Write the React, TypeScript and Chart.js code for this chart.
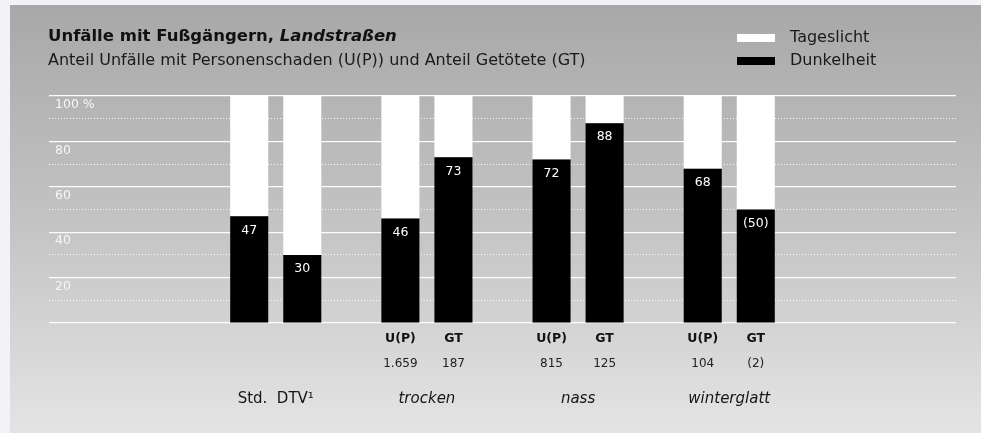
import React, { useEffect, useRef } from 'react';
import { Chart, registerables } from 'chart.js';

Chart.register(...registerables);

// ---- data ----
const categories = ['', 'Std.  DTV\u00B9', 'trocken', 'nass', 'winterglatt', ''];
const dunkelUP = [null, 47, 46, 72, 68, null];
const tagUP = [null, 53, 54, 28, 32, null];
const dunkelGT = [null, 30, 73, 88, 50, null];
const tagGT = [null, 70, 27, 12, 50, null];
const countsUP = [null, null, '1.659', '815', '104', null];
const countsGT = [null, null, '187', '125', '(2)', null];
const subLabelUP = 'U(P)';
const subLabelGT = 'GT';
const yTicks = [0, 20, 40, 60, 80, 100];

const titleMain = 'Unfälle mit Fußgängern, ';
const titleItalic = 'Landstraßen';
const subtitle = 'Anteil Unfälle mit Personenschaden (U(P)) und Anteil Getötete (GT)';
const legendItems = [
  { text: 'Tageslicht', color: '#ffffff' },
  { text: 'Dunkelheit', color: '#000000' },
];

const FAMILY = "'DejaVu Sans', sans-serif";

const headerPlugin = {
  id: 'header',
  afterDraw(chart: any) {
    const ctx = chart.ctx;
    ctx.save();
    ctx.textBaseline = 'alphabetic';
    ctx.textAlign = 'left';
    ctx.fillStyle = '#111';
    ctx.font = `bold 16.5px ${FAMILY}`;
    ctx.fillText(titleMain, 48, 41);
    const w = ctx.measureText(titleMain).width;
    ctx.font = `italic bold 16.5px ${FAMILY}`;
    ctx.fillText(titleItalic, 48 + w, 41);
    ctx.font = `16px ${FAMILY}`;
    ctx.fillStyle = '#1a1a1a';
    ctx.fillText(subtitle, 48, 65);
    legendItems.forEach((it, i) => {
      const y = 34 + i * 23;
      ctx.fillStyle = it.color;
      ctx.fillRect(737, y, 38, 8);
      ctx.fillStyle = '#1a1a1a';
      ctx.font = `16px ${FAMILY}`;
      ctx.fillText(it.text, 790, y + 8);
    });
    ctx.restore();
  },
};

const annotPlugin = {
  id: 'annot',
  afterDatasetsDraw(chart: any) {
    const ctx = chart.ctx;
    const bottom = chart.chartArea.bottom;
    const pairs = [
      { meta: chart.getDatasetMeta(0), values: dunkelUP, counts: countsUP, sub: subLabelUP },
      { meta: chart.getDatasetMeta(2), values: dunkelGT, counts: countsGT, sub: subLabelGT },
    ];
    ctx.save();
    ctx.textAlign = 'center';
    ctx.textBaseline = 'middle';
    pairs.forEach((p) => {
      p.values.forEach((v, i) => {
        if (v == null) return;
        const bar = p.meta.data[i];
        const c = p.counts[i];
        const uncertain = typeof c === 'string' && c.startsWith('(');
        ctx.fillStyle = '#ffffff';
        ctx.font = `12.5px ${FAMILY}`;
        ctx.fillText(uncertain ? `(${v})` : String(v), bar.x, bar.y + 14);
        if (c != null) {
          ctx.fillStyle = '#111';
          ctx.font = `bold 12.5px ${FAMILY}`;
          ctx.fillText(p.sub, bar.x, bottom + 16);
          ctx.font = `12px ${FAMILY}`;
          ctx.fillStyle = '#222';
          ctx.fillText(c, bar.x, bottom + 41);
        }
      });
    });
    ctx.restore();
  },
};

export default function App() {
  const ref = useRef<HTMLCanvasElement | null>(null);

  useEffect(() => {
    document.body.style.margin = '0';
    const canvas = ref.current;
    if (!canvas) return;
    const chart = new Chart(canvas, {
      type: 'bar',
      data: {
        labels: categories,
        datasets: [
          { label: 'Dunkelheit', data: dunkelUP, backgroundColor: '#000000', stack: 'up' },
          { label: 'Tageslicht', data: tagUP, backgroundColor: '#ffffff', stack: 'up' },
          { label: 'Dunkelheit', data: dunkelGT, backgroundColor: '#000000', stack: 'gt' },
          { label: 'Tageslicht', data: tagGT, backgroundColor: '#ffffff', stack: 'gt' },
        ] as any,
      },
      options: {
        responsive: false,
        animation: false,
        devicePixelRatio: 1,
        layout: { padding: { left: 37, right: 25, top: 96, bottom: 0 } },
        datasets: { bar: { categoryPercentage: 0.702, barPercentage: 0.717 } } as any,
        plugins: {
          legend: { display: false },
          title: { display: false },
          tooltip: { enabled: false },
        },
        scales: {
          x: {
            stacked: true,
            grid: { display: false, drawTicks: false },
            border: { display: false },
            ticks: {
              padding: 67,
              color: '#151515',
              autoSkip: false,
              maxRotation: 0,
              font: (c: any) => ({ family: FAMILY, size: 15, style: c.index === 1 ? 'normal' : 'italic' }),
            },
            afterFit: (s: any) => { s.height = 110; },
          } as any,
          y: {
            stacked: true,
            min: 0,
            max: 100,
            afterBuildTicks: (s: any) => { s.ticks = yTicks.map((v) => ({ value: v })); },
            ticks: {
              mirror: true,
              padding: 6,
              labelOffset: 9,
              color: '#f7f7f7',
              font: { family: FAMILY, size: 12.5 },
              callback: (v: any) => (v === 0 ? '' : v === 100 ? '100 %' : String(v)),
            },
            grid: { drawTicks: false, color: 'rgba(255,255,255,0.95)', lineWidth: 1.2 },
            border: { display: false },
          } as any,
          y2: {
            position: 'left',
            min: 0,
            max: 100,
            ticks: { display: false, stepSize: 10 },
            grid: {
              drawTicks: false,
              lineWidth: 1,
              color: (c: any) => (c.tick && c.tick.value % 20 === 0 ? 'rgba(0,0,0,0)' : 'rgba(255,255,255,0.9)'),
            },
            border: { display: false, dash: [1, 2] },
          } as any,
        },
      },
      plugins: [headerPlugin, annotPlugin],
    });
    return () => chart.destroy();
  }, []);

  return (
    <div style={{ position: 'relative', width: 981, height: 433, background: '#f2f2f7', overflow: 'hidden' }}>
      <div
        style={{
          position: 'absolute', left: 10, top: 5, width: 971, height: 428,
          background: 'linear-gradient(to bottom, #a8a8a8 0%, #c3c3c3 50%, #e4e4e4 100%)',
        }}
      />
      <canvas ref={ref} width={981} height={433} style={{ position: 'absolute', left: 0, top: 0, width: 981, height: 433 }} />
    </div>
  );
}
